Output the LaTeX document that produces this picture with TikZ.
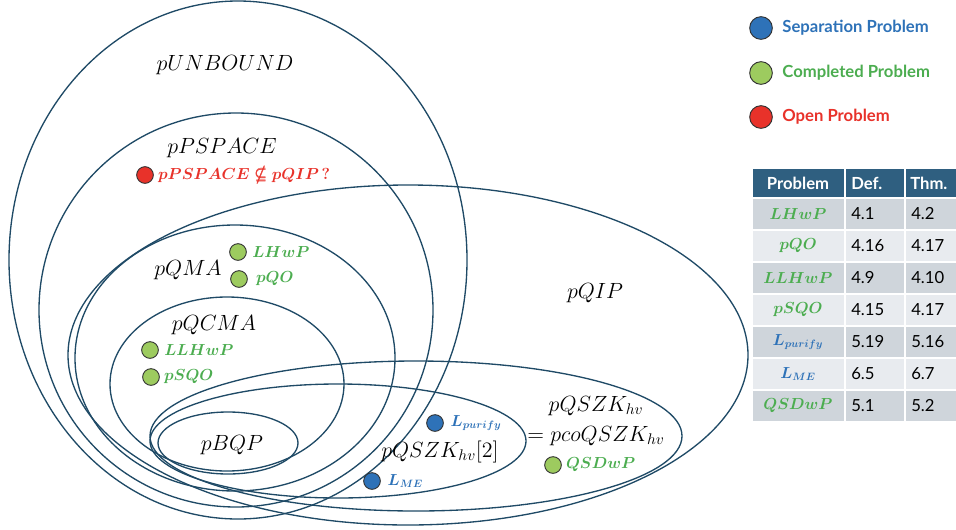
\documentclass[tikz,border=0pt]{standalone}
\usepackage{fix-cm}
\usepackage{amssymb}
\usepackage{bm}
\usepackage{fontspec}
\newfontfamily\uifont{Lato}
\usetikzlibrary{positioning}
\definecolor{setline}{HTML}{1F4A66}
\definecolor{sepblue}{HTML}{2E72B8}
\definecolor{donegreen}{HTML}{4CAD50}
\definecolor{dotgreen}{HTML}{9DCB5F}
\definecolor{openred}{HTML}{E8322A}
\definecolor{headblue}{HTML}{2F5F80}
\definecolor{rowdark}{HTML}{CFD5DB}
\definecolor{rowlight}{HTML}{E8EBEF}
\begin{document}
\begin{tikzpicture}[x=0.75pt, y=-0.75pt,
    setline/.style={draw=setline, line width=1pt},
    setname/.style={inner sep=0pt, font=\fontsize{16.5}{22.5}\selectfont},
    probname/.style={inner sep=0pt, font=\fontsize{12}{14}\selectfont},
    dot/.style={circle, draw=black!80, line width=0.7pt, minimum size=12.5pt, inner sep=0pt},
    bigdot/.style={dot, minimum size=17pt},
    legtext/.style={inner sep=0pt, font=\uifont\bfseries\fontsize{12.5}{15}\selectfont}]
                \useasboundingbox (0,0) rectangle (956,529);

                % the classes
                \draw[setline] (238,260) ellipse [x radius=229, y radius=259];
                \draw[setline] (236,310) ellipse [x radius=197, y radius=197];
                \draw[setline] (408,355) ellipse [x radius=340, y radius=170];
                \draw[setline] (235,358) ellipse [x radius=160, y radius=133];
                \draw[setline] (227,384) ellipse [x radius=117, y radius=87];
                \draw[setline] (416,436) ellipse [x radius=266, y radius=75];
                \draw[setline] (338,441) ellipse [x radius=188, y radius=57];
                \draw[setline] (228,443) ellipse [x radius=70, y radius=31];

                \node[setname] (unbound) at (225,65) {$pUNBOUND$};
                \node[setname] (pspace) at (222,148) {$pPSPACE$};
                \node[setname] (qma) at (188,270) {$pQMA$};
                \node[setname] (qcma) at (214,325) {$pQCMA$};
                \node[setname] (bqp) at (232,445) {$pBQP$};
                \node[setname] (qip) at (595,293) {$pQIP$};
                \node[setname] (qszktwo) at (440,452) {$pQSZK_{hv}[2]$};
                \node[setname, align=center] (qszk) at (596,421) {$pQSZK_{hv}$\\$=pcoQSZK_{hv}$};

                % the problems
                \node[dot, fill=openred] (open) at (145,175) {};
                \node[probname, text=openred, right=3pt of open] (opentext) {$\bm{pPSPACE \nsubseteq pQIP}$\,\textbf{?}};
                \node[dot, fill=dotgreen] (lhwp) at (238,252) {};
                \node[probname, text=donegreen, right=4pt of lhwp] (lhwptext) {$\bm{LHwP}$};
                \node[dot, fill=dotgreen] (pqo) at (239,279) {};
                \node[probname, text=donegreen, right=6pt of pqo] (pqotext) {$\bm{pQO}$};
                \node[dot, fill=dotgreen] (llhwp) at (150,350) {};
                \node[probname, text=donegreen, right=4pt of llhwp] (llhwptext) {$\bm{LLHwP}$};
                \node[dot, fill=dotgreen] (psqo) at (151,377) {};
                \node[probname, text=donegreen, right=3pt of psqo] (psqotext) {$\bm{pSQO}$};
                \node[dot, fill=dotgreen] (qsdwp) at (553,465) {};
                \node[probname, text=donegreen, right=3pt of qsdwp] (qsdwptext) {$\bm{QSDwP}$};
                \node[dot, fill=sepblue] (purify) at (435,423) {};
                \node[probname, text=sepblue, right=5pt of purify] (purifytext) {$\bm{L_{purify}}$};
                \node[dot, fill=sepblue] (me) at (372,481) {};
                \node[probname, text=sepblue, right=5pt of me] (metext) {$\bm{L_{ME}}$};

                % legend
                \node[bigdot, fill=sepblue] (legsep) at (761,28) {};
                \node[legtext, text=sepblue, right=7pt of legsep] (legseptext) {Separation Problem};
                \node[bigdot, fill=dotgreen] (legdone) at (761,73) {};
                \node[legtext, text=donegreen, right=7pt of legdone] (legdonetext) {Completed Problem};
                \node[bigdot, fill=openred] (legopen) at (761,117) {};
                \node[legtext, text=openred, right=7pt of legopen] (legopentext) {Open Problem};

                % table
                \fill[headblue] (753,169) rectangle (844,197);
                \fill[headblue] (846,169) rectangle (904,197);
                \fill[headblue] (906,169) rectangle (956,197);
                \node[legtext, text=white] (hprob) at (798,183) {Problem};
                \node[legtext, text=white, anchor=west] (hdef) at (851,183) {Def.};
                \node[legtext, text=white, anchor=west] (hthm) at (910,183) {Thm.};
                \foreach \prob/\dno/\tno/\pcol/\shade [count=\i from 0] in
                    {LHwP/4.1/4.2/donegreen/rowdark, pQO/4.16/4.17/donegreen/rowlight,
                     LLHwP/4.9/4.10/donegreen/rowdark, pSQO/4.15/4.17/donegreen/rowlight,
                     {L_{purify}}/5.19/5.16/sepblue/rowdark, {L_{ME}}/6.5/6.7/sepblue/rowlight,
                     QSDwP/5.1/5.2/donegreen/rowdark} {
                    \fill[\shade] (753,199+32*\i) rectangle (844,229+32*\i);
                    \fill[\shade] (846,199+32*\i) rectangle (904,229+32*\i);
                    \fill[\shade] (906,199+32*\i) rectangle (956,229+32*\i);
                    \node[probname, text=\pcol] (p\i) at (798,214+32*\i) {$\bm{\prob}$};
                    \node[legtext, font=\uifont\fontsize{12.5}{15}\selectfont, anchor=west] (d\i) at (851,214+32*\i) {\dno};
                    \node[legtext, font=\uifont\fontsize{12.5}{15}\selectfont, anchor=west] (t\i) at (911,214+32*\i) {\tno};
                }
            \end{tikzpicture}
\end{document}
